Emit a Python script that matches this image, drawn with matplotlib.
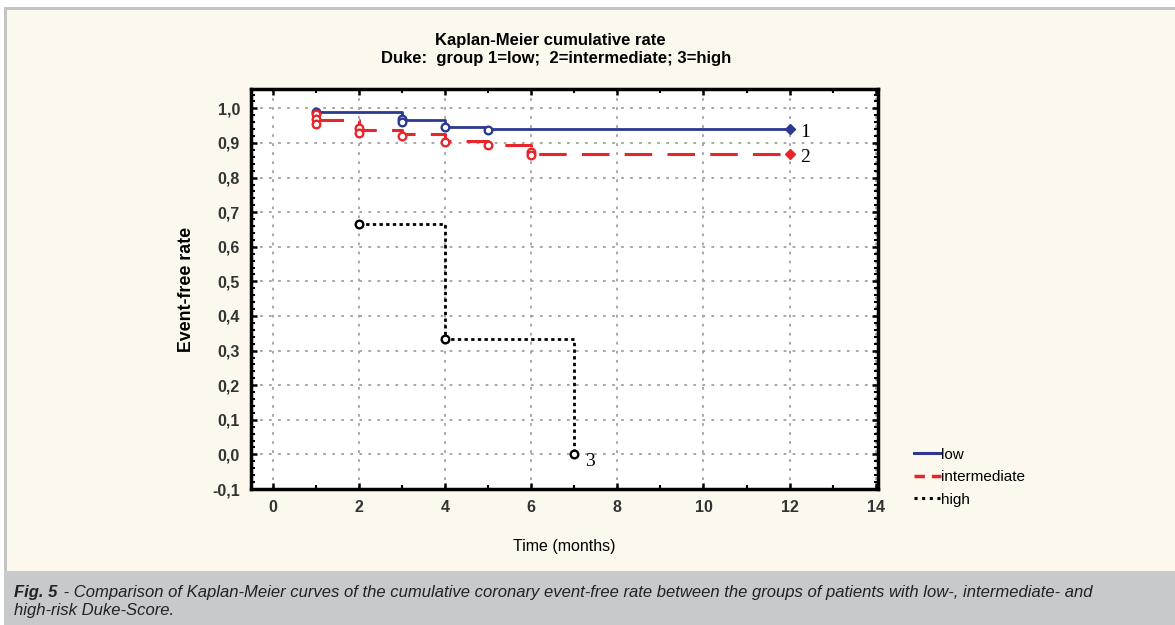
import matplotlib
matplotlib.use("Agg")
import matplotlib.pyplot as plt
from matplotlib.patches import Rectangle
from matplotlib.ticker import MultipleLocator, FuncFormatter
from matplotlib.lines import Line2D

plt.rcParams["font.family"] = ["Liberation Sans", "DejaVu Sans"]

# Kaplan-Meier step data (time in months, event-free rate)
low_t = [1, 3, 4, 5, 12]
low_y = [0.989, 0.966, 0.947, 0.940, 0.940]
mid_t = [1, 2, 3, 4, 5, 6, 12]
mid_y = [0.965, 0.938, 0.926, 0.907, 0.895, 0.869, 0.869]
high_t = [2, 4, 7]
high_y = [0.667, 0.333, 0.0]

# open-circle marks along the curves
low_mark_t = [1, 3, 3, 4, 5]
low_mark_y = [0.990, 0.970, 0.962, 0.946, 0.937]
mid_mark_t = [1, 1, 1, 2, 2, 3, 4, 5, 6, 6]
mid_mark_y = [0.985, 0.970, 0.955, 0.942, 0.930, 0.920, 0.904, 0.893, 0.875, 0.864]

group_labels = ["1", "2", "3"]
legend_labels = ["low", "intermediate", "high"]

blue = "#2b3990"
red = "#e8252b"
cream = "#fdf8ed"

fig = plt.figure(figsize=(11.75, 6.25), dpi=100)
fig.patch.set_facecolor(cream)
# page frame and caption band
fig.patches.append(Rectangle((0, 1 - 8 / 625), 1, 8 / 625, transform=fig.transFigure,
                             facecolor="white", edgecolor="none"))
fig.patches.append(Rectangle((4 / 1175, 1 - 10 / 625), 1, 2.5 / 625, transform=fig.transFigure,
                             facecolor="#c4c4c4", edgecolor="none"))
fig.patches.append(Rectangle((0, 0), 4 / 1175, 1, transform=fig.transFigure,
                             facecolor="white", edgecolor="none"))
fig.patches.append(Rectangle((4 / 1175, 0), 2.5 / 1175, 1 - 8 / 625, transform=fig.transFigure,
                             facecolor="#c4c4c4", edgecolor="none"))
fig.patches.append(Rectangle((4 / 1175, 0), 1, 54 / 625, transform=fig.transFigure,
                             facecolor="#c8c9cb", edgecolor="none"))

ax = fig.add_axes([251 / 1175, 1 - 489 / 625, 627 / 1175, 400 / 625])
ax.set_facecolor("white")

ax.step(low_t, low_y, where="post", color=blue, lw=2, label=legend_labels[0])
ax.step(mid_t, mid_y, where="post", color=red, lw=2.2, ls=(0, (9, 5)), label=legend_labels[1])
ax.step(high_t, high_y, where="post", color="black", lw=2, ls=(0, (1.2, 1.2)), label=legend_labels[2])

ax.plot(low_mark_t, low_mark_y, "o", ms=5.5, mfc="white", mec=blue, mew=1.7)
ax.plot(mid_mark_t, mid_mark_y, "o", ms=5.5, mfc="white", mec=red, mew=1.7)
ax.plot(high_t, high_y, "o", ms=5.5, mfc="white", mec="black", mew=1.7)
ax.plot(low_t[-1], low_y[-1], "D", ms=5, color=blue)
ax.plot(mid_t[-1], mid_y[-1], "D", ms=5, color=red)

serif = dict(family=["Liberation Serif", "DejaVu Serif"], fontsize=14, va="center")
ax.text(low_t[-1] + 0.25, low_y[-1] - 0.01, group_labels[0], **serif)
ax.text(mid_t[-1] + 0.25, mid_y[-1] - 0.01, group_labels[1], **serif)
ax.text(high_t[-1] + 0.25, high_y[-1] - 0.02, group_labels[2], **serif)

ax.set_xlim(-0.5, 14.05)
ax.set_ylim(-0.1, 1.056)
ax.xaxis.set_major_locator(MultipleLocator(2))
ax.xaxis.set_minor_locator(MultipleLocator(1))
ax.yaxis.set_major_locator(MultipleLocator(0.1))
ax.yaxis.set_minor_locator(MultipleLocator(0.02))
ax.yaxis.set_major_formatter(FuncFormatter(lambda v, p: f"{v:.1f}".replace(".", ",").replace("-0,0", "0,0")))
ax.grid(True, which="major", color="#a0a0a0", lw=1.3, ls=(0, (1.5, 3.5)))
ax.tick_params(which="both", direction="in", top=True, right=True, color="black")
ax.tick_params(which="major", length=4, width=1.8)
ax.tick_params(which="minor", length=3, width=1.5)
ax.tick_params(axis="both", which="major", labelsize=11.5, labelcolor="#333333", pad=8)
for lab in ax.get_xticklabels() + ax.get_yticklabels():
    lab.set_fontweight("bold")
for s in ax.spines.values():
    s.set_linewidth(2.5)

ax.set_ylabel("Event-free rate", fontsize=12.8, fontweight="bold", labelpad=12)
ax.set_xlabel("Time (months)", fontsize=11.5, labelpad=17)

fig.text(550 / 1175, 1 - 40 / 625, "Kaplan-Meier cumulative rate", ha="center", va="center",
         fontsize=12, fontweight="bold")
fig.text(556 / 1175, 1 - 58.5 / 625, "Duke:  group 1=low;  2=intermediate; 3=high", ha="center",
         va="center", fontsize=12, fontweight="bold")

handles = [Line2D([], [], color=blue, lw=2.2),
           Line2D([], [], color=red, lw=2.5, ls=(0, (3, 2))),
           Line2D([], [], color="black", lw=2.2, ls=(0, (1, 1.5)))]
fig.legend(handles, legend_labels, loc="upper left", bbox_to_anchor=(900 / 1175, 1 - 434 / 625),
           frameon=False, fontsize=11, handlelength=1.8, handletextpad=0.0, labelspacing=0.55)

cap_font = ["Liberation Sans Narrow", "Liberation Sans", "DejaVu Sans"]
cap1 = fig.text(14 / 1175, 1 - 593 / 625, "Fig. 5", fontsize=12, style="italic", fontweight="bold",
                family=cap_font, va="center", color="#222222")
fig.canvas.draw()
r = fig.canvas.get_renderer()
bb = cap1.get_window_extent(r)
fig.text(bb.x1 / 1175 + 2 / 1175, 1 - 593 / 625,
         " - Comparison of Kaplan-Meier curves of the cumulative coronary event-free rate between the groups of patients with low-, intermediate- and",
         fontsize=12, style="italic", family=cap_font, va="center", color="#222222")
fig.text(14 / 1175, 1 - 611 / 625, "high-risk Duke-Score.", fontsize=12, style="italic",
         family=cap_font, va="center", color="#222222")

fig.savefig("out.png", dpi=100, facecolor=fig.get_facecolor())
